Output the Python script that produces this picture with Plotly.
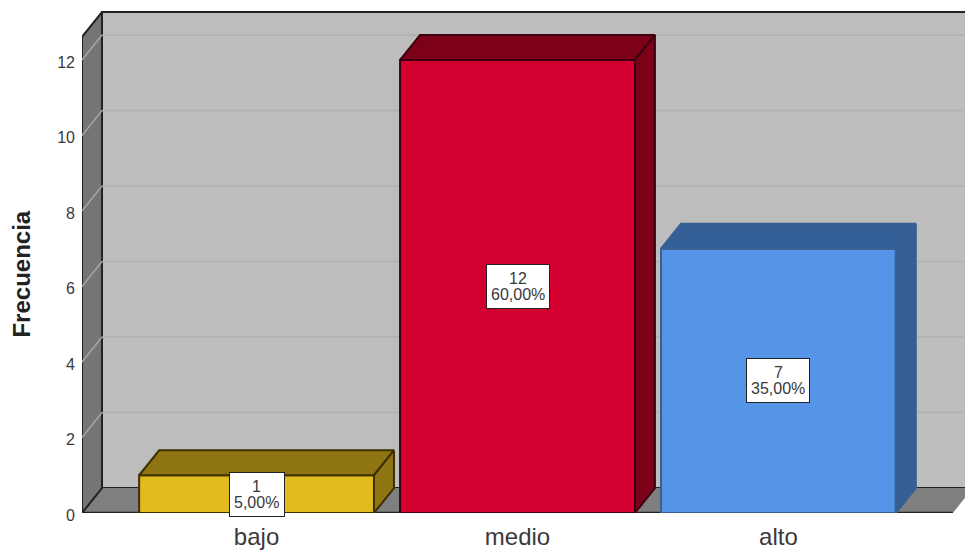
import plotly.graph_objects as go

categories = ["bajo", "medio", "alto"]
counts = [1, 12, 7]
percents = ["5,00%", "60,00%", "35,00%"]
y_ticks = [0, 2, 4, 6, 8, 10, 12]
front_colors = ["#e2bb1f", "#d4002f", "#5594e6"]
depth_colors = ["#8f7412", "#7d0019", "#335e96"]
edge_colors = ["#3d3000", "#3d0010", "#3a6090"]

# style constants: oblique depth expressed in axis units
BAR_W = 0.90
DX, DY = 0.0766, 0.66
X0, X1 = -0.669, 2.715
FLOOR_R = X1 + 0.03
WALL_TOP = 13.27
Y1 = 13.298
WALL_LINE = "#222222"
TEXT = "#3a3a3a"
FONT = "Liberation Sans, Arial, sans-serif"

fig = go.Figure()
xs = list(range(len(categories)))


def poly(points):
    return "M" + " L".join(f"{a},{b}" for a, b in points) + " Z"


shapes = []
# back wall
shapes.append(dict(type="rect", x0=X0 + DX, x1=X1 + 0.1, y0=DY, y1=WALL_TOP,
                   fillcolor="#bdbdbd", line=dict(color=WALL_LINE, width=2), layer="below"))
# floor
shapes.append(dict(type="path", path=poly([(X0, 0), (X0 + DX, DY), (FLOOR_R, DY), (FLOOR_R - DX, 0)]),
                   fillcolor="#7f7f7f", line=dict(width=0), layer="below"))
# side wall
shapes.append(dict(type="path", path=poly([(X0, 0), (X0 + DX, DY), (X0 + DX, WALL_TOP), (X0, WALL_TOP - DY)]),
                   fillcolor="#757575", line=dict(color=WALL_LINE, width=2), layer="below"))
# gridlines on wall
for t in y_ticks[1:]:
    shapes.append(dict(type="line", x0=X0 + DX, x1=X1 + 0.1, y0=t + DY, y1=t + DY,
                       line=dict(color="#b1b1b1", width=1.5), layer="below"))
    shapes.append(dict(type="line", x0=X0, x1=X0 + DX, y0=t, y1=t + DY,
                       line=dict(color="#a5a5a5", width=1.5), layer="below"))
# front floor edge
shapes.append(dict(type="line", x0=X0, x1=FLOOR_R - DX, y0=0, y1=0,
                   line=dict(color=WALL_LINE, width=2.5), layer="below"))

fig.add_trace(go.Bar(x=xs, y=counts, width=BAR_W,
                     marker=dict(color=front_colors, line=dict(color=edge_colors, width=2)),
                     hoverinfo="skip", showlegend=False))

for x, v, dc, ec in zip(xs, counts, depth_colors, edge_colors):
    l, r = x - BAR_W / 2, x + BAR_W / 2
    fig.add_trace(go.Scatter(x=[l, l + DX, r + DX, r, l], y=[v, v + DY, v + DY, v, v],
                             mode="lines", fill="toself", fillcolor=dc,
                             line=dict(color=ec, width=2), hoverinfo="skip", showlegend=False))
    fig.add_trace(go.Scatter(x=[r, r + DX, r + DX, r, r], y=[v, v + DY, DY, 0, v],
                             mode="lines", fill="toself", fillcolor=dc,
                             line=dict(color=ec, width=2), hoverinfo="skip", showlegend=False))

annotations = []
for x, v, p in zip(xs, counts, percents):
    label_font = dict(family=FONT, size=16, color=TEXT)
    annotations.append(dict(x=x, y=v / 2, text=" ", showarrow=False,
                            width=52 if len(p) == 5 else 60, height=41,
                            bgcolor="white", bordercolor="#222222", borderwidth=1,
                            font=dict(family=FONT, size=10, color="white")))
    annotations.append(dict(x=x, y=v / 2, yshift=8, text=str(v), showarrow=False, font=label_font))
    annotations.append(dict(x=x, y=v / 2, yshift=-8, text=p, showarrow=False, font=label_font))

annotations.append(dict(xref="paper", yref="paper", x=0, y=0.476, xshift=-45,
                        xanchor="right", text="<b>Frecuencia</b>", textangle=-90, showarrow=False,
                        font=dict(family=FONT, size=24, color="#222222")))

fig.update_layout(
    width=965, height=552, autosize=False,
    margin=dict(l=82, r=0, t=11, b=39),
    paper_bgcolor="white", plot_bgcolor="white",
    shapes=shapes, annotations=annotations, showlegend=False,
    xaxis=dict(range=[X0, X1], tickmode="array", tickvals=xs, ticktext=categories,
               showgrid=False, zeroline=False, showline=False, ticks="",
               ticklabelstandoff=7,
               tickfont=dict(family=FONT, size=24, color=TEXT)),
    yaxis=dict(range=[0, Y1], tickmode="array", tickvals=y_ticks,
               ticktext=[str(t) for t in y_ticks],
               showgrid=False, zeroline=False, showline=False, ticks="",
               ticklabelstandoff=6, ticklabelshift=2,
               tickfont=dict(family=FONT, size=16, color=TEXT)),
)

fig.write_html("out.html", config=dict(displayModeBar=False),
               post_script="document.body.style.margin='0';")
